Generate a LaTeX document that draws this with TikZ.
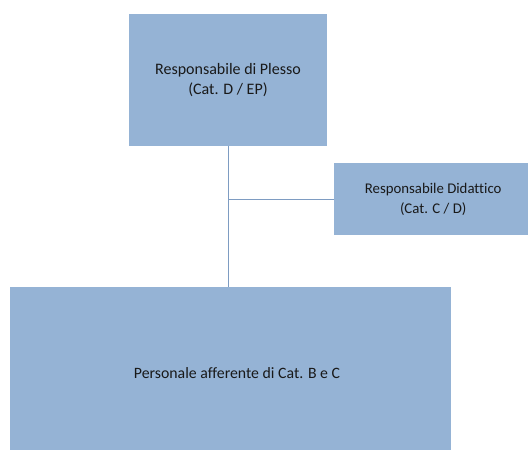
\documentclass[tikz,border=0pt]{standalone}
\usepackage{fontspec}
\setmainfont[Ligatures={NoCommon}]{Carlito}
\begin{document}
\begin{tikzpicture}[x=1pt,y=-1pt,
  box/.style={fill=boxblue, draw=none, inner sep=0pt, align=center, text=black!90},
  link/.style={draw=lineblue, line width=0.8pt}]
\definecolor{boxblue}{HTML}{95B3D5}
\definecolor{lineblue}{HTML}{7E9CC2}
\useasboundingbox (0,0) rectangle (528,450);
% boxes
\node[box, minimum width=198pt, minimum height=132pt, font=\fontsize{16}{20}\selectfont]
  (plesso) at (228,80) {Responsabile di Plesso\\(Cat. D / EP)};
\node[box, minimum width=198pt, minimum height=72pt, font=\fontsize{14.8}{20}\selectfont, anchor=west]
  (didattico) at (334,199) {Responsabile Didattico\\(Cat. C / D)};
\node[box, minimum width=441pt, minimum height=172pt, anchor=north west]
  (personale) at (10,287) {};
\node[font=\fontsize{15.8}{20}\selectfont, text=black!90, inner sep=0pt]
  (personaletxt) at (237,373) {Personale afferente di Cat. B e C};
% connectors
\coordinate (junction) at (plesso.south |- didattico.west);
\draw[link] (plesso.south) -- (plesso.south |- personale.north);
\draw[link] (junction) -- (didattico.west);
\end{tikzpicture}
\end{document}
